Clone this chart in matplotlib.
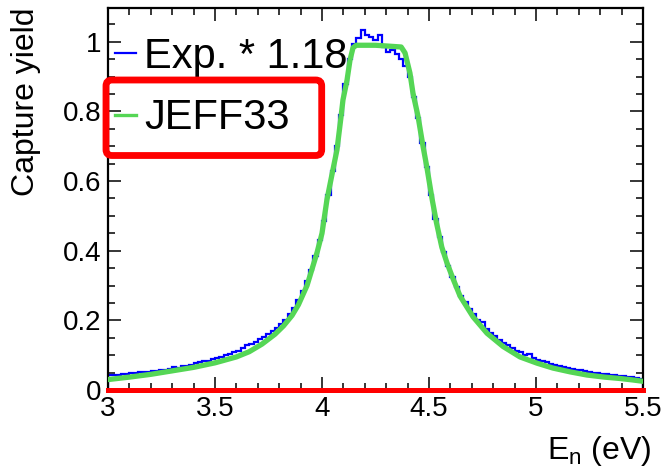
import numpy as np
import matplotlib
matplotlib.use('Agg')
import matplotlib.pyplot as plt
from matplotlib.patches import FancyBboxPatch
from matplotlib.ticker import MultipleLocator

# -----------------------------
# data
# -----------------------------
# experimental yield (* 1.18), 0.02 eV bins from 3.0 to 5.5 eV
exp_start = 3.0
exp_bin = 0.02
exp_yield = [
    0.044, 0.043, 0.044, 0.045, 0.046, 0.048, 0.049, 0.053, 0.051, 0.052,
    0.055, 0.054, 0.058, 0.057, 0.060, 0.066, 0.064, 0.070, 0.068, 0.072,
    0.078, 0.080, 0.082, 0.084, 0.088, 0.092, 0.095, 0.100, 0.102, 0.108,
    0.112, 0.120, 0.128, 0.133, 0.138, 0.146, 0.152, 0.160, 0.168, 0.178,
    0.190, 0.202, 0.218, 0.236, 0.258, 0.283, 0.312, 0.345, 0.385, 0.430,
    0.485, 0.560, 0.630, 0.700, 0.790, 0.880, 0.950, 0.995, 1.010, 1.035,
    1.020, 1.015, 1.005, 1.020, 0.985, 0.970, 0.975, 0.965, 0.950, 0.930,
    0.900, 0.840, 0.780, 0.710, 0.640, 0.560, 0.490, 0.440, 0.395, 0.355,
    0.325, 0.295, 0.270, 0.252, 0.232, 0.218, 0.200, 0.195, 0.175, 0.165,
    0.155, 0.145, 0.135, 0.128, 0.120, 0.112, 0.108, 0.100, 0.103, 0.092,
    0.086, 0.083, 0.079, 0.075, 0.072, 0.070, 0.066, 0.064, 0.060, 0.058,
    0.056, 0.054, 0.051, 0.050, 0.048, 0.046, 0.045, 0.044, 0.042, 0.041,
    0.040, 0.038, 0.036, 0.035, 0.033,
]

# JEFF33 calculated yield
jeff_E = [3.00, 3.10, 3.20, 3.30, 3.40, 3.50, 3.60, 3.66, 3.72, 3.78,
          3.82, 3.86, 3.89, 3.93, 3.977, 4.00, 4.023, 4.047, 4.07, 4.089,
          4.098, 4.117, 4.131, 4.145, 4.16, 4.25, 4.30, 4.37, 4.388, 4.411,
          4.425, 4.449, 4.472, 4.49, 4.514, 4.535, 4.56, 4.584, 4.612, 4.645,
          4.66, 4.706, 4.771, 4.846, 4.925, 5.005, 5.079, 5.16, 5.238, 5.32,
          5.393, 5.45, 5.50]
jeff_Y = [0.030, 0.037, 0.045, 0.055, 0.065, 0.078, 0.095, 0.110, 0.132, 0.160,
          0.184, 0.214, 0.245, 0.300, 0.395, 0.450, 0.546, 0.620, 0.690, 0.785,
          0.833, 0.890, 0.948, 0.983, 0.990, 0.990, 0.988, 0.985, 0.968, 0.910,
          0.853, 0.785, 0.700, 0.640, 0.550, 0.480, 0.410, 0.365, 0.320, 0.270,
          0.255, 0.210, 0.163, 0.125, 0.095, 0.077, 0.063, 0.052, 0.043, 0.037,
          0.033, 0.029, 0.025]

x_range = (3.0, 5.5)
y_range = (0.0, 1.097)

# -----------------------------
# figure
# -----------------------------
plt.rcParams['font.family'] = ['Liberation Sans', 'DejaVu Sans']
plt.rcParams['mathtext.fontset'] = 'custom'
plt.rcParams['mathtext.rm'] = 'Liberation Sans'

W, H = 667, 473
fig = plt.figure(figsize=(W / 100, H / 100), dpi=100)
ax = fig.add_axes([108 / W, 1 - 390 / H, 535 / W, 382 / H])

edges = exp_start + exp_bin * np.arange(len(exp_yield) + 1)
ax.stairs(exp_yield, edges, color='#0000ff', lw=1.6, label='Exp. * 1.18', zorder=2)
ax.plot(jeff_E, jeff_Y, color='#55d655', lw=3.8, label='JEFF33', zorder=3)
ax.plot(x_range, [0, 0], color='#ff0000', lw=3.6, clip_on=False, zorder=4)

ax.set_xlim(*x_range)
ax.set_ylim(*y_range)

ax.xaxis.set_major_locator(MultipleLocator(0.5))
ax.xaxis.set_minor_locator(MultipleLocator(0.1))
ax.yaxis.set_major_locator(MultipleLocator(0.2))
ax.yaxis.set_minor_locator(MultipleLocator(0.05))
ax.xaxis.set_major_formatter(plt.FuncFormatter(lambda v, p: f'{v:g}'))
ax.yaxis.set_major_formatter(plt.FuncFormatter(lambda v, p: f'{v:g}'))

ax.tick_params(which='both', direction='in', top=True, right=True,
               width=1.1, labelsize=20, color='black')
ax.tick_params(which='major', length=9.5)
ax.tick_params(which='minor', length=5)
ax.tick_params(axis='x', pad=4)
ax.tick_params(axis='y', pad=5)
for s in ax.spines.values():
    s.set_linewidth(1.6)

ax.set_xlabel(r'E$_{\mathregular{n}}$ (eV)', fontsize=23, loc='right')
ax.xaxis.set_label_coords(1.015, -0.115)
ax.set_ylabel('Capture yield', fontsize=23, loc='top')
ax.yaxis.set_label_coords(-0.125, 1.0)

leg = ax.legend(loc='upper left', bbox_to_anchor=(115 / W, 1 - 37 / H),
                bbox_transform=fig.transFigure, frameon=False, fontsize=30,
                handlelength=0.5, handletextpad=0.2, labelspacing=0.51,
                borderpad=0, borderaxespad=0)
leg.get_lines()[1].set_linewidth(2.4)

# red highlight box round the JEFF33 entry
box = FancyBboxPatch((106 / W, 1 - 155.5 / H), (321.7 - 106) / W, (155.5 - 80) / H,
                     boxstyle='round,pad=0,rounding_size=%f' % (6 / W),
                     mutation_aspect=W / H, transform=fig.transFigure,
                     fill=False, edgecolor='#ff0000', lw=4.9, zorder=10)
fig.add_artist(box)

fig.savefig('out.png', dpi=100)
